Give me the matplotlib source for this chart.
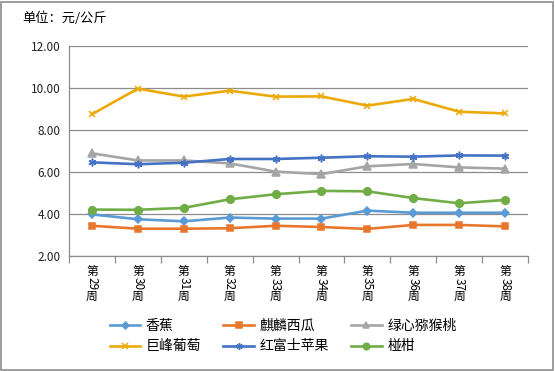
import matplotlib
matplotlib.use("Agg")
import matplotlib.pyplot as plt
from matplotlib.patches import Rectangle
from matplotlib.ticker import FormatStrFormatter, FixedLocator
import matplotlib.transforms as mtransforms

plt.rcParams['font.family'] = ['Noto Sans CJK SC', 'DejaVu Sans']

# -----------------------------------------------------------------------------
# Data (元/公斤)
# -----------------------------------------------------------------------------
weeks = ["29", "30", "31", "32", "33", "34", "35", "36", "37", "38"]

banana = [3.98, 3.75, 3.65, 3.83, 3.78, 3.78, 4.16, 4.06, 4.06, 4.06]
watermelon = [3.44, 3.30, 3.30, 3.32, 3.44, 3.38, 3.29, 3.48, 3.48, 3.41]
kiwi = [6.89, 6.55, 6.55, 6.41, 6.02, 5.90, 6.27, 6.38, 6.22, 6.16]
grape = [8.75, 9.97, 9.59, 9.87, 9.59, 9.60, 9.16, 9.48, 8.87, 8.79]
apple = [6.46, 6.37, 6.44, 6.62, 6.62, 6.68, 6.75, 6.73, 6.79, 6.78]
orange = [4.21, 4.20, 4.29, 4.70, 4.94, 5.10, 5.08, 4.76, 4.51, 4.67]

series_names = ["香蕉", "麒麟西瓜", "绿心猕猴桃", "巨峰葡萄", "红富士苹果", "椪柑"]
series_values = [banana, watermelon, kiwi, grape, apple, orange]

# styling per series
colors = ["#5B9BD5", "#E8772E", "#A5A5A5", "#EBAA0A", "#4472C4", "#70AD47"]
markers = ["D", "s", "^", "x", (6, 2, 0), "o"]
msizes = [4.2, 5, 5.5, 5, 5.5, 5.5]

# -----------------------------------------------------------------------------
# Plot
# -----------------------------------------------------------------------------
fig = plt.figure(figsize=(5.55, 3.71), dpi=100)
ax = fig.add_axes([69 / 555, 1 - 256 / 371, (528 - 69) / 555, (256 - 46) / 371])

x = list(range(len(weeks)))
handles = []
for name, vals, c, m, ms in zip(series_names, series_values, colors, markers, msizes):
  h, = ax.plot(x, vals, color=c, lw=1.9, marker=m, markersize=ms,
               markeredgecolor=c, markerfacecolor=c, markeredgewidth=1.1,
               label=name, zorder=3)
  handles.append(h)

ax.set_xlim(-0.5, len(weeks) - 0.5)
ax.set_ylim(2, 12)
ax.set_yticks([2, 4, 6, 8, 10, 12])
ax.yaxis.set_major_formatter(FormatStrFormatter("%.2f"))
ax.tick_params(axis="y", length=0, labelsize=8.5, pad=6, colors="#222222")
ax.grid(axis="y", color="#8C8C8C", lw=0.9, zorder=0)

# category boundaries as tick marks
ax.xaxis.set_major_locator(FixedLocator([i - 0.5 for i in range(len(weeks) + 1)]))
ax.set_xticklabels([])
ax.tick_params(axis="x", length=5, color="#8C8C8C", width=0.9)

for side in ["top", "right"]:
  ax.spines[side].set_visible(False)
ax.spines["left"].set_color("#8C8C8C")
ax.spines["bottom"].set_color("#8C8C8C")
ax.spines["left"].set_linewidth(0.9)
ax.spines["bottom"].set_linewidth(0.9)

# vertical category labels: 第 / rotated digits / 周
trans = mtransforms.blended_transform_factory(ax.transData, ax.transAxes)
for i, wk in enumerate(weeks):
  ax.annotate("第", xy=(i, 0), xycoords=trans, xytext=(0, -15), textcoords="offset pixels",
              ha="center", va="center", fontsize=8.5)
  ax.annotate(wk, xy=(i, 0), xycoords=trans, xytext=(0, -28), textcoords="offset pixels",
              ha="center", va="center", fontsize=8.5, rotation=-90)
  ax.annotate("周", xy=(i, 0), xycoords=trans, xytext=(0, -40), textcoords="offset pixels",
              ha="center", va="center", fontsize=8.5)

# unit title
fig.text(22 / 555, 1 - 18 / 371, "单位：元/公斤", fontsize=9.5, ha="left", va="center")

# legend (row-wise order)
order = [0, 3, 1, 4, 2, 5]
fig.legend([handles[i] for i in order], [series_names[i] for i in order],
           ncol=3, loc="center", bbox_to_anchor=(0.51, 1 - 336 / 371),
           frameon=False, fontsize=10, handlelength=2.2, columnspacing=1.6,
           handletextpad=0.4, labelspacing=0.5, markerscale=0.85)

# outer chart border
fig.patches.append(Rectangle((1 / 555, 1 / 371), 552 / 555, 368 / 371,
                             transform=fig.transFigure, fill=False,
                             edgecolor="#8C8C8C", lw=1.2))

fig.savefig("out.png", dpi=100)
